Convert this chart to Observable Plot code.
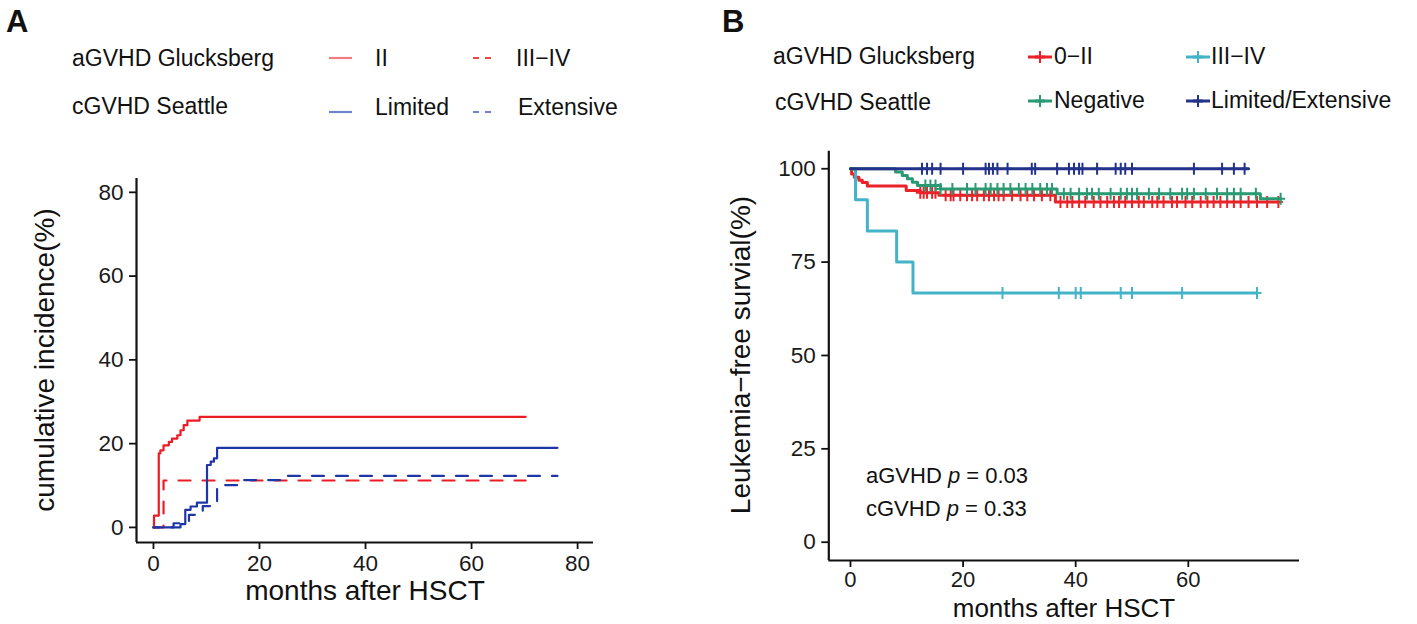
<!DOCTYPE html>
<html>
<head>
<meta charset="utf-8">
<script src="https://cdn.jsdelivr.net/npm/d3@7"></script>
<script src="https://cdn.jsdelivr.net/npm/@observablehq/plot@0.6"></script>
<style>
  html, body { margin: 0; padding: 0; background: #fff; }
  #wrap { position: relative; width: 1417px; height: 624px; overflow: hidden; background: #fff; }
  #wrap > svg, #wrap > figure { position: absolute; top: 0; margin: 0; }
  #overlay { left: 0; top: 0; pointer-events: none; }
</style>
</head>
<body>
<div id="wrap"></div>
<script>
// ---------------- DATA ----------------
// Panel A: cumulative incidence (%), months after HSCT
const aTicks = [0, 20, 40, 60, 80];
const aII_t   = [0, 0.1, 1.0, 1.3, 1.9, 2.9, 3.5, 4.5, 5.1, 5.7, 6.4, 8.7, 70.2];
const aII_v   = [0, 2.8, 17.7, 18.4, 19.6, 20.4, 21.2, 22.0, 23.2, 24.4, 25.5, 26.4, 26.4];
const aIII_t  = [0, 1.9, 70.2];
const aIII_v  = [0, 11.2, 11.2];
const aLim_t  = [0, 5.1, 6.0, 7.0, 8.2, 10.1, 10.8, 11.4, 12.0, 76.2];
const aLim_v  = [0, 0.8, 4.2, 5.0, 5.9, 14.9, 15.7, 16.5, 19.0, 19.0];
const aExt_t  = [0, 3.8, 6.7, 9.3, 12.0, 17.0, 24.0, 76.2];
const aExt_v  = [0, 1.0, 3.0, 5.1, 10.1, 11.3, 12.3, 12.3];

// Panel B: leukemia-free survival (%)
const bTicksX = [0, 20, 40, 60];
const bTicksY = [0, 25, 50, 75, 100];
const b02_t   = [0, 0.2, 0.7, 1.5, 2.1, 3.0, 9.9, 12.4, 15.7, 36.4, 76.0];
const b02_v   = [100, 98.6, 97.7, 96.9, 96.3, 95.4, 94.2, 93.6, 92.9, 91.1, 91.1];
const b02_c   = [12.4, 13.0, 13.6, 14.5, 15.1, 16.9, 17.8, 18.3, 19.5, 20.7, 21.6, 22.5, 23.7, 24.6, 25.5, 26.3,
                 27.2, 28.7, 30.2, 31.4, 32.6, 34.0, 35.5, 37.3, 38.5, 39.4, 40.6, 41.7, 43.2, 44.4, 45.6, 46.8,
                 47.7, 48.8, 50.0, 51.2, 52.1, 53.6, 54.5, 55.6, 57.1, 58.0, 59.5, 60.7, 62.2, 63.4, 64.5, 65.7,
                 66.9, 68.1, 69.3, 70.7, 72.2, 74.0, 76.0];
const b34_t   = [0, 0.9, 3.0, 8.2, 11.1, 72.2];
const b34_v   = [100, 91.7, 83.3, 75.0, 66.7, 66.7];
const b34_c   = [27.0, 37.0, 40.0, 40.9, 48.0, 50.0, 58.9, 72.2];
const bNeg_t  = [0, 8.0, 9.2, 10.1, 11.0, 11.9, 16.0, 36.7, 72.8, 76.4];
const bNeg_v  = [100, 99.1, 98.2, 97.3, 96.4, 95.5, 94.6, 93.3, 92.0, 92.0];
const bNeg_c  = [13.3, 14.2, 15.1, 16.0, 18.1, 20.7, 22.2, 24.0, 24.9, 26.1, 27.2, 28.4, 29.9, 31.1, 32.3, 33.7,
                 34.9, 35.8, 37.9, 39.1, 40.6, 42.0, 42.9, 44.1, 46.2, 48.0, 49.1, 50.0, 50.9, 53.0, 54.8, 56.8,
                 58.9, 59.8, 61.0, 63.1, 65.1, 66.9, 68.1, 69.3, 72.0, 76.4];
const bLE_t   = [0, 70.7];
const bLE_v   = [100, 100];
const bLE_c   = [12.7, 13.6, 14.5, 16.0, 20.0, 24.0, 24.6, 25.3, 26.1, 27.9, 32.2, 32.8, 36.7, 38.8, 39.7, 40.6,
                 41.2, 43.8, 47.1, 48.0, 48.8, 50.0, 61.0, 66.0, 68.1, 70.0];

// ---------------- HELPERS ----------------
const FONT = "'Liberation Sans', Arial, Helvetica, sans-serif";
const rows = (ts, vs) => ts.map((t, i) => ({t, v: vs[i]}));
const stepAt = (ts, vs, t) => { let v = vs[0]; for (let i = 0; i < ts.length; i++) if (ts[i] <= t) v = vs[i]; return v; };
const cens = (ts, vs, cs) => cs.map(t => ({t, v: stepAt(ts, vs, t)}));
const plusSym = { draw(ctx, size) { const r = Math.sqrt(size / Math.PI); ctx.moveTo(-r * 0.75, 0); ctx.lineTo(r * 0.75, 0); ctx.moveTo(0, -r); ctx.lineTo(0, r); } };

const wrap = document.getElementById("wrap");

// ---------------- PANEL A ----------------
const axA = {xMin: -3.2, xMax: 83, yMin: -3.6, yMax: 83.3};
const red = "#ec1c24", blue = "#1f37a6";
const plotA = Plot.plot({
  width: 700, height: 624,
  marginLeft: 136, marginRight: 107, marginTop: 178, marginBottom: 82,
  x: {domain: [axA.xMin, axA.xMax]},
  y: {domain: [axA.yMin, axA.yMax]},
  style: {fontFamily: FONT, fontSize: "22px", color: "#1a1a1a", background: "transparent", overflow: "visible"},
  marks: [
    Plot.axisX({ticks: aTicks, tickSize: 7, tickPadding: 6, fontSize: 22.5, label: null, strokeWidth: 1.8, stroke: "#111"}),
    Plot.axisY({ticks: aTicks, tickSize: 7, tickPadding: 6, fontSize: 22.5, label: null, strokeWidth: 1.8, stroke: "#111"}),
    Plot.ruleY([axA.yMin], {stroke: "#111", strokeWidth: 2.2}),
    Plot.ruleX([axA.xMin], {stroke: "#111", strokeWidth: 2.2}),
    Plot.line(rows(aIII_t, aIII_v), {x: "t", y: "v", curve: "step-after", stroke: red, strokeWidth: 2.2, strokeDasharray: "12,12"}),
    Plot.line(rows(aExt_t, aExt_v), {x: "t", y: "v", curve: "step-after", stroke: blue, strokeWidth: 2.2, strokeDasharray: "12,12", strokeDashoffset: 6}),
    Plot.line(rows(aII_t, aII_v), {x: "t", y: "v", curve: "step-after", stroke: red, strokeWidth: 2.2}),
    Plot.line(rows(aLim_t, aLim_v), {x: "t", y: "v", curve: "step-after", stroke: blue, strokeWidth: 2.2})
  ]
});
plotA.style.left = "0px";
wrap.appendChild(plotA);

// ---------------- PANEL B ----------------
const axB = {xMin: -3.85, xMax: 79.75, yMin: -4.9, yMax: 104.7};
const cRed = "#ea2328", cCyan = "#43b3c7", cGreen = "#2a9a73", cNavy = "#24338a";
const series = [
  {t: b02_t, v: b02_v, c: b02_c, col: cRed},
  {t: b34_t, v: b34_v, c: b34_c, col: cCyan},
  {t: bNeg_t, v: bNeg_v, c: bNeg_c, col: cGreen},
  {t: bLE_t, v: bLE_v, c: bLE_c, col: cNavy}
];
const marksB = [
  Plot.axisX({ticks: bTicksX, tickSize: 7, tickPadding: 4, fontSize: 22, label: null, strokeWidth: 1.8, stroke: "#111"}),
  Plot.axisY({ticks: bTicksY, tickSize: 7, tickPadding: 6, fontSize: 22.5, label: null, strokeWidth: 1.8, stroke: "#111"}),
  Plot.ruleY([axB.yMin], {stroke: "#111", strokeWidth: 2.2}),
  Plot.ruleX([axB.xMin], {stroke: "#111", strokeWidth: 2.2})
];
for (const s of series) {
  marksB.push(Plot.line(rows(s.t, s.v), {x: "t", y: "v", curve: "step-after", stroke: s.col, strokeWidth: 3}));
  marksB.push(Plot.dot(cens(s.t, s.v, s.c), {x: "t", y: "v", r: 6, symbol: plusSym, fill: "none", stroke: s.col, strokeWidth: 2}));
}
const plotB = Plot.plot({
  width: 717, height: 624,
  marginLeft: 128.3, marginRight: 118, marginTop: 150.7, marginBottom: 64,
  x: {domain: [axB.xMin, axB.xMax]},
  y: {domain: [axB.yMin, axB.yMax]},
  style: {fontFamily: FONT, fontSize: "22px", color: "#1a1a1a", background: "transparent", overflow: "visible"},
  marks: marksB
});
plotB.style.left = "700px";
wrap.appendChild(plotB);

// ---------------- TEXT OVERLAY (titles, legends, annotations) ----------------
const NS = "http://www.w3.org/2000/svg";
const ov = document.createElementNS(NS, "svg");
ov.setAttribute("id", "overlay");
ov.setAttribute("width", 1417); ov.setAttribute("height", 624);
ov.style.fontFamily = FONT;
wrap.appendChild(ov);
function txt(x, y, s, opt = {}) {
  const e = document.createElementNS(NS, "text");
  e.setAttribute("x", x); e.setAttribute("y", y);
  e.setAttribute("font-size", opt.size || 23);
  e.setAttribute("fill", opt.fill || "#111");
  if (opt.weight) e.setAttribute("font-weight", opt.weight);
  if (opt.anchor) e.setAttribute("text-anchor", opt.anchor);
  if (opt.rotate) e.setAttribute("transform", `rotate(-90 ${x} ${y})`);
  if (opt.html) e.innerHTML = s; else e.textContent = s;
  ov.appendChild(e);
  return e;
}
function seg(x1, y1, x2, y2, col, w, dash) {
  const e = document.createElementNS(NS, "line");
  e.setAttribute("x1", x1); e.setAttribute("y1", y1); e.setAttribute("x2", x2); e.setAttribute("y2", y2);
  e.setAttribute("stroke", col); e.setAttribute("stroke-width", w);
  if (dash) e.setAttribute("stroke-dasharray", dash);
  ov.appendChild(e);
}
function keyPlus(x, y, col) {
  seg(x, y, x + 24, y, col, 3);
  seg(x + 12, y - 6, x + 12, y + 6, col, 2);
  seg(x + 7, y, x + 17, y, col, 3);
}

// panel letters
txt(6, 32, "A", {size: 31, weight: "bold"});
txt(722, 32, "B", {size: 31, weight: "bold"});

// Panel A legend
txt(72, 66, "aGVHD Glucksberg");
txt(72, 114, "cGVHD Seattle");
seg(329, 58, 352, 58, "#f17b7e", 2.2);
txt(375, 66, "II");
seg(473, 58, 493, 58, "#e8474a", 2.2, "6,6");
txt(516, 66, "III−IV");
seg(329, 112, 352, 112, "#6f84cf", 2.2);
txt(375, 115, "Limited");
seg(473, 112, 493, 112, "#6f84cf", 2.2, "6,6");
txt(518, 115, "Extensive");

// Panel A axis titles
txt(365, 600, "months after HSCT", {size: 28, anchor: "middle"});
txt(54, 360, "cumulative incidence(%)", {size: 28, anchor: "middle", rotate: true});

// Panel B legend
txt(773, 64, "aGVHD Glucksberg");
txt(775, 110, "cGVHD Seattle");
keyPlus(1028, 57, cRed);
txt(1054, 64, "0−II");
keyPlus(1186, 57, cCyan);
txt(1211, 64, "III−IV");
keyPlus(1028, 101, cGreen);
txt(1054, 108, "Negative");
keyPlus(1186, 101, cNavy);
txt(1211, 108, "Limited/Extensive");

// Panel B annotations
txt(866, 483, 'aGVHD <tspan font-style="italic">p</tspan> = 0.03', {size: 22, html: true});
txt(866, 516, 'cGVHD <tspan font-style="italic">p</tspan> = 0.33', {size: 22, html: true});

// Panel B axis titles
txt(1064, 617, "months after HSCT", {size: 26, anchor: "middle"});
txt(750, 355, "Leukemia−free survial(%)", {size: 28, anchor: "middle", rotate: true});
</script>
</body>
</html>
